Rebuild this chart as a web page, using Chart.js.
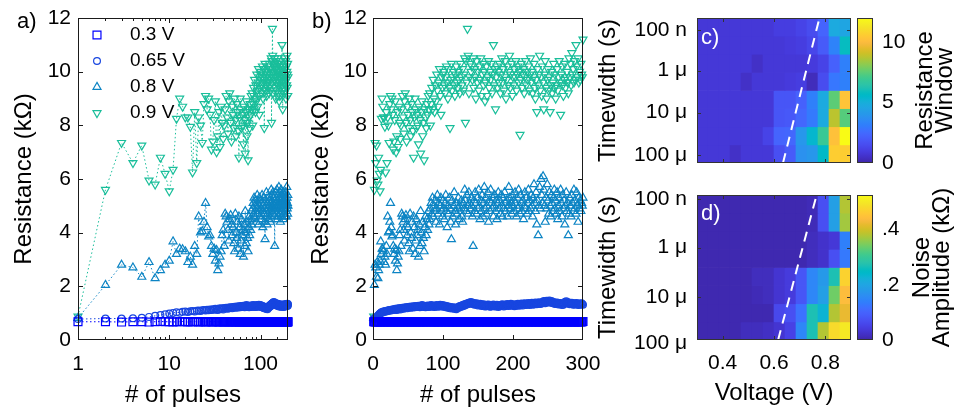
<!DOCTYPE html>
<html><head><meta charset="utf-8">
<script src="https://cdn.jsdelivr.net/npm/chart.js@4.4.1/dist/chart.umd.min.js"></script>
<style>
html,body{margin:0;padding:0;background:#fff;width:973px;height:412px;overflow:hidden}
canvas{position:absolute}
</style></head><body>
<canvas id="cA" width="300" height="412" style="left:0;top:0"></canvas>
<canvas id="cB" width="310" height="412" style="left:300px;top:0"></canvas>
<canvas id="cC" width="270" height="180" style="left:590px;top:0"></canvas>
<canvas id="cCb" width="123" height="180" style="left:850px;top:0"></canvas>
<canvas id="cD" width="270" height="232" style="left:590px;top:180px"></canvas>
<canvas id="cDb" width="123" height="232" style="left:850px;top:180px"></canvas>
<script>
// ---------------- DATA ----------------
const SERIES_LABELS = ['0.3 V', '0.65 V', '0.8 V', '0.9 V'];
const N_PULSES = 300;
const PULSES = Array.from({length: N_PULSES}, (_, i) => i + 1);

const R_03V = [
0.68,0.68,0.67,0.68,0.68,0.67,0.68,0.69,0.68,0.68,0.67,0.68,0.68,0.69,0.68,0.67,0.68,0.68,0.69,0.68,
0.67,0.68,0.69,0.68,0.67,0.68,0.68,0.69,0.68,0.67,0.68,0.69,0.68,0.68,0.67,0.68,0.69,0.68,0.67,0.68,
0.68,0.69,0.68,0.67,0.68,0.68,0.69,0.68,0.67,0.68,0.69,0.68,0.68,0.67,0.68,0.69,0.68,0.68,0.67,0.69,
0.68,0.67,0.68,0.69,0.68,0.68,0.67,0.68,0.69,0.68,0.67,0.68,0.68,0.69,0.68,0.67,0.68,0.69,0.68,0.68,
0.69,0.68,0.67,0.68,0.68,0.69,0.68,0.67,0.68,0.69,0.68,0.68,0.67,0.68,0.69,0.68,0.67,0.68,0.68,0.69,
0.68,0.68,0.69,0.67,0.68,0.68,0.69,0.68,0.67,0.68,0.68,0.69,0.68,0.67,0.69,0.68,0.68,0.67,0.68,0.69,
0.67,0.68,0.68,0.69,0.68,0.67,0.68,0.69,0.68,0.68,0.67,0.69,0.68,0.68,0.67,0.68,0.69,0.68,0.67,0.68,
0.69,0.68,0.67,0.68,0.69,0.68,0.68,0.67,0.68,0.69,0.68,0.67,0.68,0.68,0.69,0.68,0.67,0.69,0.68,0.68,
0.68,0.67,0.69,0.68,0.68,0.67,0.68,0.69,0.68,0.67,0.68,0.68,0.69,0.68,0.67,0.68,0.69,0.68,0.68,0.67,
0.68,0.69,0.68,0.67,0.68,0.68,0.69,0.68,0.67,0.68,0.69,0.68,0.68,0.67,0.68,0.69,0.68,0.67,0.68,0.68,
0.69,0.68,0.68,0.67,0.68,0.69,0.68,0.67,0.68,0.68,0.69,0.68,0.67,0.68,0.69,0.68,0.68,0.67,0.68,0.69,
0.68,0.67,0.68,0.68,0.69,0.68,0.67,0.68,0.69,0.68,0.68,0.67,0.68,0.69,0.68,0.67,0.68,0.68,0.69,0.68,
0.67,0.68,0.69,0.68,0.68,0.67,0.68,0.69,0.68,0.67,0.68,0.68,0.69,0.68,0.67,0.68,0.69,0.68,0.68,0.67,
0.68,0.69,0.68,0.67,0.68,0.68,0.69,0.68,0.67,0.68,0.69,0.68,0.68,0.67,0.68,0.69,0.68,0.67,0.68,0.68,
0.69,0.68,0.67,0.68,0.68,0.69,0.68,0.67,0.68,0.69,0.68,0.68,0.67,0.68,0.69,0.68,0.67,0.68,0.68,0.69];

const R_065V = [
0.78,0.8,0.8,0.81,0.83,0.86,0.9,0.93,0.96,0.99,
1.01,1.03,1.02,1.05,1.06,1.04,1.07,1.08,1.06,1.09,
1.1,1.08,1.11,1.12,1.1,1.13,1.11,1.14,1.12,1.15,
1.13,1.16,1.14,1.12,1.17,1.15,1.18,1.16,1.14,1.19,
1.17,1.2,1.18,1.16,1.21,1.19,1.22,1.2,1.18,1.23,
1.21,1.24,1.22,1.2,1.25,1.23,1.21,1.26,1.24,1.22,
1.27,1.25,1.23,1.26,1.28,1.24,1.22,1.27,1.25,1.3,
1.26,1.23,1.28,1.25,1.22,1.27,1.24,1.29,1.26,1.23,
1.28,1.25,1.3,1.27,1.24,1.29,1.26,1.23,1.28,1.25,
1.3,1.27,1.24,1.29,1.26,1.31,1.28,1.25,1.3,1.27,
1.24,1.29,1.26,1.22,1.27,1.24,1.2,1.25,1.22,1.18,
1.23,1.2,1.17,1.22,1.19,1.16,1.21,1.18,1.15,1.2,
1.22,1.19,1.24,1.27,1.23,1.28,1.25,1.3,1.27,1.32,
1.29,1.34,1.31,1.36,1.33,1.38,1.35,1.4,1.37,1.42,
1.38,1.34,1.39,1.35,1.31,1.36,1.32,1.37,1.33,1.29,
1.34,1.3,1.35,1.31,1.27,1.32,1.28,1.33,1.29,1.25,
1.3,1.26,1.31,1.27,1.32,1.28,1.24,1.29,1.25,1.3,
1.27,1.32,1.28,1.25,1.3,1.26,1.31,1.27,1.23,1.28,
1.3,1.26,1.31,1.28,1.33,1.29,1.25,1.3,1.27,1.32,
1.28,1.34,1.3,1.27,1.32,1.29,1.35,1.31,1.28,1.33,
1.3,1.26,1.31,1.28,1.33,1.29,1.35,1.32,1.28,1.34,
1.3,1.36,1.33,1.29,1.35,1.31,1.37,1.33,1.3,1.35,
1.32,1.38,1.34,1.3,1.36,1.33,1.39,1.35,1.31,1.37,
1.34,1.4,1.36,1.33,1.38,1.35,1.41,1.37,1.34,1.39,
1.36,1.42,1.38,1.45,1.41,1.37,1.43,1.46,1.4,1.44,
1.41,1.47,1.43,1.39,1.45,1.41,1.37,1.42,1.38,1.34,
1.39,1.35,1.4,1.36,1.32,1.37,1.33,1.38,1.34,1.3,
1.35,1.31,1.36,1.42,1.38,1.44,1.4,1.36,1.41,1.37,
1.33,1.38,1.34,1.39,1.35,1.31,1.36,1.32,1.37,1.33,
1.38,1.34,1.3,1.35,1.31,1.36,1.32,1.37,1.33,1.31];

const R_08V = [
0.82,2.05,2.8,2.7,2.35,2.9,2.3,2.6,2.8,2.95,3.67,3.2,3.4,3.38,3.3,2.9,3.1,2.8,3.5,3.2,
4.6,4.0,4.05,4.4,5.1,4.2,3.85,3.9,3.5,3.2,3.4,2.95,3.35,2.6,2.85,3.1,3.3,3.9,4.1,3.5,
4.7,4.6,4.4,4.1,3.7,4.5,4.65,4.3,3.9,4.2,3.6,3.3,4.7,4.0,3.8,4.4,3.4,4.6,4.2,3.2,
3.7,4.5,3.9,4.1,3.1,4.3,3.5,4.8,4.0,3.6,4.4,3.8,3.3,4.2,4.6,3.9,4.5,4.1,4.8,4.3,
4.5,4.9,5.1,4.7,5.3,4.6,5.0,4.8,5.2,4.4,4.9,5.4,4.7,5.1,4.3,5.0,5.3,4.8,4.6,5.2,
4.9,4.5,5.1,5.4,4.8,4.2,5.0,4.7,5.3,4.9,4.4,3.75,5.2,4.6,5.0,5.5,4.8,4.3,5.1,4.7,
4.9,5.3,4.5,5.0,4.8,5.2,4.6,4.4,5.1,4.9,5.6,5.2,4.8,5.4,5.0,4.7,5.5,5.1,4.9,5.3,
5.0,4.6,3.5,5.2,4.8,5.5,5.1,4.7,5.3,4.9,5.6,5.0,4.5,5.2,4.8,5.4,4.6,5.1,5.7,4.9,
5.3,4.7,5.0,5.5,4.4,5.2,4.8,5.6,5.1,4.9,5.3,4.6,5.0,5.4,4.8,5.2,4.5,5.1,5.5,4.9,
5.2,4.7,5.4,5.0,4.6,5.3,4.9,5.5,5.1,4.8,5.2,4.6,5.0,5.7,5.3,4.9,5.1,4.7,5.4,5.0,
5.2,4.8,5.5,5.1,4.6,5.3,4.9,5.6,5.0,4.7,5.4,5.1,4.8,5.2,4.5,5.0,5.5,4.9,5.3,4.7,
5.1,5.6,4.8,5.2,4.9,5.4,5.0,4.6,5.3,5.8,5.1,4.8,5.5,4.3,5.2,3.9,5.0,5.7,4.9,6.0,
5.4,5.1,6.1,5.6,5.0,4.4,5.3,4.9,5.8,5.2,4.7,5.5,5.0,4.6,5.4,5.1,4.8,5.3,5.6,4.9,
5.2,4.7,5.5,4.5,5.0,5.3,4.8,5.6,5.1,4.6,5.4,4.9,5.2,4.3,5.0,5.5,4.8,5.1,3.9,4.7,
5.3,5.0,4.6,5.4,5.1,4.8,5.6,4.9,5.2,4.7,5.5,5.0,4.4,5.3,4.9,5.2,4.8,5.1,5.0,5.3];

const R_09V = [
0.88,5.6,7.35,6.6,7.25,5.95,5.8,6.8,6.2,5.55,6.35,8.25,9.0,8.7,8.3,8.3,7.95,6.25,8.5,6.6,
8.3,8.0,7.35,8.8,9.1,8.6,9.0,8.4,7.1,7.4,8.2,8.9,7.0,7.6,8.5,7.2,8.7,8.1,7.5,8.0,
8.6,9.1,8.3,7.7,8.9,9.2,8.1,7.4,8.7,8.4,7.9,9.0,8.2,7.6,8.8,8.5,7.8,6.8,8.3,9.0,
8.6,7.9,8.4,8.0,7.3,8.7,8.2,6.95,8.5,8.9,7.6,8.1,6.7,8.6,8.3,7.9,8.8,8.4,9.1,8.6,
9.2,8.0,8.8,9.4,8.6,9.7,9.0,8.5,9.5,8.9,9.9,9.3,8.7,9.6,10.1,9.1,8.4,9.8,9.4,9.9,
10.0,9.5,9.2,9.8,10.2,9.6,9.0,10.1,9.4,7.9,9.7,10.3,9.3,9.8,10.0,9.5,9.1,9.9,10.2,9.6,
9.4,10.0,9.7,9.2,10.3,9.8,9.5,10.1,9.3,9.9,10.5,8.1,10.4,9.6,11.6,10.6,9.2,9.8,10.3,10.0,
10.2,9.7,10.5,9.4,10.1,9.8,9.0,10.4,9.6,10.0,9.3,10.2,9.7,10.5,9.1,9.9,10.3,9.5,10.0,8.9,
9.6,10.2,9.1,9.8,10.4,9.4,10.0,9.7,10.3,9.2,9.9,11.0,9.5,10.1,8.6,9.8,10.2,9.4,10.0,9.6,
10.3,9.2,9.9,10.5,9.6,10.1,9.3,9.8,10.4,9.0,9.7,10.2,9.5,10.0,10.6,9.4,9.9,10.3,9.1,9.8,
9.5,10.1,9.8,10.4,9.3,9.9,10.2,9.6,10.0,7.65,9.7,10.3,9.4,9.9,10.1,9.2,9.8,10.4,9.5,10.0,
9.7,10.2,9.3,9.9,10.5,9.6,10.0,9.2,9.8,10.3,9.4,9.0,9.7,8.5,10.1,9.5,9.9,10.6,9.3,9.8,
9.1,10.2,9.6,8.6,9.9,10.4,9.4,9.0,9.7,10.1,9.3,9.8,8.5,9.5,10.0,9.2,9.6,10.3,9.4,9.9,
9.0,9.5,10.1,9.3,9.8,10.4,9.6,8.4,9.9,10.2,9.5,9.1,9.7,10.3,9.4,9.8,10.0,9.6,9.2,10.5,
9.8,10.3,9.5,10.7,9.9,10.1,9.6,10.4,9.7,11.0,10.2,9.8,10.5,9.6,10.0,9.7,10.3,9.9,9.8,11.2];

const A_MAX_PULSE = 200;
const A_X_LABELS = [1, 10, 100];
const B_X_TICKS = [0, 100, 200, 300];
const RES_TICKS = [0, 2, 4, 6, 8, 10, 12];

// heat maps: 14 voltage columns x 8 timewidth rows (top = shortest pulse)
const VOLT_COLS = ['0.32','0.36','0.41','0.45','0.49','0.54','0.58','0.62','0.66','0.71','0.75','0.79','0.84','0.88'];
const V_MIN = 0.3, V_MAX = 0.9;
const V_TICKS = [0.4, 0.6, 0.8];
const V_LABELS = ['0.4', '0.6', '0.8'];
const TW_LABELS = ['100 n', '1 μ', '10 μ', '100 μ'];
const TW_POS_C = [0.66, 2.9, 5.22, 7.57];
const TW_POS_D = [0.22, 2.9, 5.62, 8.2];

const WINDOW_C = [
[0.8,0.8,0.8,0.8,0.8,0.8,0.8,1.0,1.0,1.2,1.5,2.3,4.8,4.6],
[0.8,0.8,0.8,0.8,0.8,0.8,0.8,0.8,0.9,1.0,1.3,2.0,3.3,5.8],
[0.8,0.8,0.8,0.8,0.8,0.5,0.8,0.8,0.8,0.8,0.9,1.2,2.2,3.2],
[0.8,0.8,0.8,0.8,0.5,0.8,0.8,0.8,0.9,1.0,0.3,1.5,2.9,3.2],
[0.8,0.8,0.8,0.8,0.8,0.8,0.8,1.8,1.8,2.2,3.2,4.8,7.5,10.3],
[0.8,0.8,0.8,0.8,0.8,0.8,0.8,1.8,1.9,2.4,3.0,4.8,8.8,7.4],
[0.8,0.8,0.8,0.8,0.8,0.8,1.2,2.3,2.4,4.0,5.4,6.9,10.2,12.0],
[0.8,0.8,0.8,0.5,0.8,0.8,0.8,1.6,2.0,3.8,4.0,5.6,10.6,10.6]];
const NOISE_D = [
[0.005,0.005,0.005,0.005,0.005,0.005,0.005,0.005,0.005,0.005,0.01,0.07,0.19,0.38],
[0.005,0.005,0.005,0.005,0.005,0.005,0.005,0.005,0.005,0.005,0.01,0.07,0.19,0.37],
[0.005,0.005,0.005,0.005,0.005,0.005,0.005,0.005,0.005,0.005,0.015,0.025,0.035,0.14],
[0.005,0.005,0.005,0.005,0.005,0.005,0.005,0.005,0.005,0.005,0.015,0.025,0.07,0.13],
[0.005,0.005,0.005,0.005,0.005,0.015,0.015,0.03,0.04,0.08,0.15,0.18,0.27,0.47],
[0.005,0.005,0.005,0.005,0.005,0.01,0.015,0.03,0.04,0.08,0.15,0.19,0.34,0.44],
[0.005,0.005,0.005,0.005,0.005,0.005,0.005,0.06,0.07,0.12,0.27,0.23,0.38,0.42],
[0.005,0.005,0.005,0.005,0.015,0.015,0.02,0.03,0.05,0.15,0.27,0.38,0.48,0.5]];
const WINDOW_MAX = 12;
const NOISE_MAX = 0.525;
const CB_C_TICKS = [0, 5, 10];
const CB_C_LABELS = ['0', '5', '10'];
const CB_D_TICKS = [0, 0.2, 0.4];
const CB_D_LABELS = ['0', '.2', '.4'];
// threshold dashed lines (voltage, row position)
const DASH_C_V = [0.635, 0.777];
const DASH_C_ROW = [8, 0];
const DASH_D_V = [0.616, 0.766];
const DASH_D_ROW = [8, 0];

// ---------------- STYLE ----------------
const FONT = "'Liberation Sans', Arial, Helvetica, sans-serif";
Chart.defaults.font.family = FONT;
Chart.defaults.font.size = 21;
Chart.defaults.color = '#000';
Chart.defaults.animation = false;

const STYLES = [
  {color: '#0000FF', pointStyle: 'rect', radius: 5.6, rot: 0},
  {color: '#1846E0', pointStyle: 'circle', radius: 3.4, rot: 0},
  {color: '#0C84C4', pointStyle: 'triangle', radius: 4.6, rot: 0},
  {color: '#19BE9A', pointStyle: 'triangle', radius: 4.6, rot: 180}
];
const SERIES_VALUES = [R_03V, R_065V, R_08V, R_09V];

const PARULA = [[0.2422,0.1504,0.6603],[0.2504,0.1650,0.7076],[0.2578,0.1818,0.7511],[0.2647,0.1978,0.7952],[0.2706,0.2147,0.8364],[0.2751,0.2342,0.8710],[0.2783,0.2559,0.8991],[0.2803,0.2782,0.9221],[0.2813,0.3006,0.9414],[0.2810,0.3228,0.9579],[0.2795,0.3447,0.9717],[0.2760,0.3667,0.9829],[0.2699,0.3892,0.9906],[0.2602,0.4123,0.9952],[0.2440,0.4358,0.9988],[0.2206,0.4603,0.9973],[0.1963,0.4847,0.9892],[0.1834,0.5074,0.9798],[0.1786,0.5289,0.9682],[0.1764,0.5499,0.9520],[0.1687,0.5703,0.9359],[0.1540,0.5902,0.9218],[0.1460,0.6091,0.9079],[0.1380,0.6276,0.8973],[0.1248,0.6459,0.8883],[0.1113,0.6635,0.8763],[0.0952,0.6798,0.8598],[0.0689,0.6948,0.8394],[0.0297,0.7082,0.8163],[0.0036,0.7203,0.7917],[0.0067,0.7312,0.7660],[0.0433,0.7411,0.7394],[0.0964,0.7500,0.7120],[0.1408,0.7584,0.6842],[0.1717,0.7670,0.6554],[0.1938,0.7758,0.6251],[0.2161,0.7843,0.5923],[0.2470,0.7918,0.5567],[0.2906,0.7973,0.5188],[0.3406,0.8008,0.4789],[0.3909,0.8029,0.4354],[0.4456,0.8024,0.3909],[0.5044,0.7993,0.3480],[0.5616,0.7942,0.3045],[0.6174,0.7876,0.2612],[0.6720,0.7793,0.2227],[0.7242,0.7698,0.1910],[0.7738,0.7598,0.1646],[0.8203,0.7498,0.1535],[0.8634,0.7406,0.1596],[0.9035,0.7330,0.1774],[0.9393,0.7288,0.2100],[0.9728,0.7298,0.2394],[0.9956,0.7434,0.2371],[0.9970,0.7659,0.2199],[0.9952,0.7893,0.2028],[0.9892,0.8136,0.1885],[0.9786,0.8386,0.1766],[0.9676,0.8639,0.1643],[0.9610,0.8890,0.1537],[0.9597,0.9135,0.1423],[0.9628,0.9373,0.1265],[0.9691,0.9606,0.1064],[0.9769,0.9839,0.0805]];
function rgbOf(c) { return 'rgb(' + c.map(v => Math.round(v * 255)).join(',') + ')'; }
function parula(t) {
  t = Math.max(0, Math.min(1, t));
  const f = t * (PARULA.length - 1), i = Math.min(Math.floor(f), PARULA.length - 2), u = f - i;
  return rgbOf(PARULA[i].map((v, k) => v + (PARULA[i + 1][k] - v) * u));
}
const isIn = (list, v) => list.some(m => Math.abs(m - v) < 1e-6 * Math.max(1, Math.abs(m)));

// scale sizing helpers: fixed thickness, no label-overflow padding
function fixW(w) { return s => { s.width = w; s.paddingTop = 0; s.paddingBottom = 0; }; }
function fixH(h) { return s => { s.height = h; s.paddingLeft = 0; s.paddingRight = 0; }; }

// ---------------- PLUGINS ----------------
function makeFrame(o) {
  return {
    id: 'frame',
    afterDraw(chart) {
      const ctx = chart.ctx, ca = chart.chartArea;
      ctx.save();
      ctx.strokeStyle = o.color; ctx.lineWidth = 1;
      (o.axes || []).forEach(a => {
        const s = chart.scales[a.id];
        s.ticks.forEach(t => {
          const v = t.value, p = s.getPixelForValue(v);
          const major = a.majors ? isIn(a.majors, v) : true;
          const len = major ? a.len : a.minorLen;
          if (!len) return;
          ctx.beginPath();
          if (s.isHorizontal()) {
            if (p < ca.left + 1 || p > ca.right - 1) return;
            const x = Math.round(p) + 0.5;
            ctx.moveTo(x, ca.bottom); ctx.lineTo(x, ca.bottom - len);
            ctx.moveTo(x, ca.top); ctx.lineTo(x, ca.top + len);
          } else {
            if (p < ca.top + 1 || p > ca.bottom - 1) return;
            const y = Math.round(p) + 0.5;
            ctx.moveTo(ca.left, y); ctx.lineTo(ca.left + len, y);
            ctx.moveTo(ca.right, y); ctx.lineTo(ca.right - len, y);
          }
          ctx.stroke();
        });
      });
      ctx.strokeRect(Math.round(ca.left) + 0.5, Math.round(ca.top) + 0.5, Math.round(ca.width) - 1, Math.round(ca.height) - 1);
      ctx.restore();
    }
  };
}
function makeText(items) {
  return {
    id: 'extraText',
    afterDraw(chart) {
      const ctx = chart.ctx, ca = chart.chartArea;
      items.forEach(it => {
        ctx.save();
        ctx.font = it.font; ctx.fillStyle = it.color || '#000';
        ctx.textAlign = it.align || 'center'; ctx.textBaseline = 'middle';
        ctx.translate(ca.left + it.dx, ca.top + it.dy);
        if (it.rot) ctx.rotate(it.rot);
        const lines = [].concat(it.text);
        lines.forEach((l, i) => ctx.fillText(l, 0, (i - (lines.length - 1) / 2) * (it.lh || 0)));
        ctx.restore();
      });
    }
  };
}
// tick labels placed through a scale's own value->pixel mapping
function makeAxisLabels(scaleId, values, labels, dy, font) {
  return {
    id: 'axisLabels',
    afterDraw(chart) {
      const ctx = chart.ctx, ca = chart.chartArea, s = chart.scales[scaleId];
      ctx.save();
      ctx.font = font; ctx.fillStyle = '#000'; ctx.textAlign = 'center'; ctx.textBaseline = 'middle';
      values.forEach((v, i) => ctx.fillText(labels[i], s.getPixelForValue(v), ca.bottom + dy));
      ctx.restore();
    }
  };
}
function drawMarker(ctx, style, x, y, r, rot, color, lw) {
  ctx.save();
  ctx.strokeStyle = color; ctx.lineWidth = lw;
  ctx.beginPath();
  if (style === 'rect') {
    const h = r * Math.SQRT1_2;
    ctx.rect(x - h, y - h, 2 * h, 2 * h);
  } else if (style === 'circle') {
    ctx.arc(x, y, r, 0, Math.PI * 2);
  } else {
    let a = rot * Math.PI / 180;
    ctx.moveTo(x + Math.sin(a) * r, y - Math.cos(a) * r);
    a += 2 * Math.PI / 3; ctx.lineTo(x + Math.sin(a) * r, y - Math.cos(a) * r);
    a += 2 * Math.PI / 3; ctx.lineTo(x + Math.sin(a) * r, y - Math.cos(a) * r);
    ctx.closePath();
  }
  ctx.stroke();
  ctx.restore();
}
function makeLegend(o) {
  return {
    id: 'miniLegend',
    afterDraw(chart) {
      const ctx = chart.ctx, ca = chart.chartArea;
      ctx.save();
      ctx.font = o.font; ctx.fillStyle = '#000'; ctx.textAlign = 'left'; ctx.textBaseline = 'middle';
      chart.data.datasets.forEach((ds, i) => {
        const y = ca.top + o.dy + i * o.step;
        drawMarker(ctx, ds.pointStyle, ca.left + o.mx, y, ds.pointRadius, ds.pointRotation || 0, ds.pointBorderColor, ds.pointBorderWidth);
        ctx.fillText(ds.label, ca.left + o.tx, y);
      });
      ctx.restore();
    }
  };
}

// ---------------- SCATTER PANELS ----------------
function scatterDatasets(n, lines) {
  return SERIES_VALUES.map((vals, k) => ({
    label: SERIES_LABELS[k],
    data: vals.slice(0, n).map((v, i) => ({x: PULSES[i], y: v})),
    showLine: lines,
    borderColor: STYLES[k].color,
    borderWidth: 1,
    borderDash: [1.5, 2.5],
    pointStyle: STYLES[k].pointStyle,
    pointRotation: STYLES[k].rot,
    pointRadius: STYLES[k].radius,
    pointBorderColor: STYLES[k].color,
    pointBackgroundColor: 'rgba(0,0,0,0)',
    pointBorderWidth: 1.2,
    clip: 5
  }));
}
const noGrid = {display: false, drawTicks: false};
const noBorder = {display: false};

new Chart(document.getElementById('cA'), {
  type: 'scatter',
  data: {datasets: scatterDatasets(A_MAX_PULSE, true)},
  options: {
    responsive: false, animation: false, events: [],
    layout: {padding: {top: 18, right: 12, left: 0, bottom: 0}},
    plugins: {legend: {display: false}, tooltip: {enabled: false}},
    scales: {
      x: {
        type: 'logarithmic', min: 1, max: A_MAX_PULSE, offset: false,
        grid: noGrid, border: noBorder,
        ticks: {padding: 12, autoSkip: false, maxRotation: 0, minRotation: 0,
          callback: v => isIn(A_X_LABELS, v) ? String(Math.round(v)) : ''},
        title: {display: true, text: '# of pulses', font: {size: 24}, padding: {top: 0, bottom: 2}},
        afterFit: fixH(72)
      },
      y: {
        min: 0, max: 12,
        afterBuildTicks: s => { s.ticks = RES_TICKS.map(v => ({value: v})); },
        grid: noGrid, border: noBorder,
        ticks: {padding: 7},
        title: {display: true, text: 'Resistance (kΩ)', font: {size: 24}, padding: {top: 10, bottom: 0}},
        afterFit: fixW(78)
      }
    }
  },
  plugins: [
    makeFrame({color: '#1a1a1a', axes: [{id: 'x', len: 5, minorLen: 3, majors: A_X_LABELS}, {id: 'y', len: 5}]}),
    makeText([{text: 'a)', dx: -61, dy: 4, align: 'left', font: '22px ' + FONT}]),
    makeLegend({font: '19px ' + FONT, mx: 19, tx: 52, dy: 17, step: 26})
  ]
});

new Chart(document.getElementById('cB'), {
  type: 'scatter',
  data: {datasets: scatterDatasets(N_PULSES, false)},
  options: {
    responsive: false, animation: false, events: [],
    layout: {padding: {top: 18, right: 27, left: 0, bottom: 0}},
    plugins: {legend: {display: false}, tooltip: {enabled: false}},
    scales: {
      x: {
        type: 'linear', min: 0, max: 300, offset: false,
        afterBuildTicks: s => { s.ticks = B_X_TICKS.map(v => ({value: v})); },
        grid: noGrid, border: noBorder,
        ticks: {padding: 12, autoSkip: false, maxRotation: 0},
        title: {display: true, text: '# of pulses', font: {size: 24}, padding: {top: 0, bottom: 2}},
        afterFit: fixH(72)
      },
      y: {
        min: 0, max: 12,
        afterBuildTicks: s => { s.ticks = RES_TICKS.map(v => ({value: v})); },
        grid: noGrid, border: noBorder,
        ticks: {padding: 6},
        title: {display: true, text: 'Resistance (kΩ)', font: {size: 24}, padding: {top: 7, bottom: 0}},
        afterFit: fixW(73)
      }
    }
  },
  plugins: [
    makeFrame({color: '#1a1a1a', axes: [{id: 'x', len: 5}, {id: 'y', len: 5}]}),
    makeText([{text: 'b)', dx: -61, dy: 4, align: 'left', font: '22px ' + FONT}])
  ]
});

// ---------------- HEAT MAPS ----------------
function heatmap(id, rows, vmax, twPos, dashV, dashRow, opt) {
  const datasets = rows.map((vals, r) => ({
    type: 'bar',
    data: vals.map(() => [r, r + 1]),
    backgroundColor: vals.map(v => parula(v / vmax)),
    borderWidth: 0, barPercentage: 1, categoryPercentage: 1, grouped: false,
    xAxisID: 'x', yAxisID: 'y', order: 1
  }));
  datasets.push({
    type: 'line',
    data: dashV.map((v, i) => ({x: v, y: dashRow[i]})),
    xAxisID: 'xv', yAxisID: 'y',
    borderColor: '#ffffff', borderWidth: 2, borderDash: [10, 7],
    pointRadius: 0, fill: false, order: 0
  });
  const plugins = [
    makeFrame({color: '#333333', axes: [{id: 'xv', len: 4, minorLen: 0, majors: V_TICKS}, {id: 'y', len: 4}]}),
    makeText([{text: opt.label, dx: 4, dy: opt.labelDy, align: 'left', color: '#ffffff', font: '22px ' + FONT}])
  ];
  if (opt.showX) plugins.push(makeAxisLabels('xv', V_TICKS, V_LABELS, 23, '21px ' + FONT));
  new Chart(document.getElementById(id), {
    type: 'bar',
    data: {labels: VOLT_COLS, datasets},
    options: {
      responsive: false, animation: false, events: [],
      layout: {padding: {top: opt.top, right: 9, left: 0, bottom: 0}},
      plugins: {legend: {display: false}, tooltip: {enabled: false}},
      scales: {
        x: {type: 'category', display: false, offset: true},
        xv: {
          type: 'linear', position: 'bottom', min: V_MIN, max: V_MAX, offset: false,
          grid: {display: false, drawTicks: false, offset: false}, border: noBorder,
          ticks: {display: false, stepSize: 0.1, includeBounds: false, autoSkip: false},
          title: {display: opt.showX, text: 'Voltage (V)', font: {size: 24}, padding: {top: 0, bottom: 4}},
          afterFit: fixH(opt.xh)
        },
        y: {
          type: 'linear', reverse: true, min: 0, max: rows.length, offset: false,
          afterBuildTicks: s => { s.ticks = twPos.map(v => ({value: v})); },
          grid: noGrid, border: noBorder,
          ticks: {padding: 10, autoSkip: false, callback: (v, i) => TW_LABELS[i]},
          title: {display: true, text: 'Timewidth (s)', font: {size: 24}, padding: {top: 4, bottom: 0}},
          afterFit: fixW(107)
        }
      }
    },
    plugins
  });
}
heatmap('cC', WINDOW_C, WINDOW_MAX, TW_POS_C, DASH_C_V, DASH_C_ROW, {top: 18, xh: 17, showX: false, label: 'c)', labelDy: 19.5});
heatmap('cD', NOISE_D, NOISE_MAX, TW_POS_D, DASH_D_V, DASH_D_ROW, {top: 15, xh: 72, showX: true, label: 'd)', labelDy: 19});

// ---------------- COLOR BARS ----------------
function colorbar(id, vmax, ticks, labels, pad, title, titleDx) {
  new Chart(document.getElementById(id), {
    type: 'bar',
    data: {labels: [''], datasets: [{
      data: [[0, vmax]],
      backgroundColor: c => {
        const ca = c.chart.chartArea;
        if (!ca) return parula(0.5);
        const g = c.chart.ctx.createLinearGradient(0, ca.bottom, 0, ca.top);
        PARULA.forEach((p, i) => g.addColorStop(i / (PARULA.length - 1), rgbOf(p)));
        return g;
      },
      borderWidth: 0, barPercentage: 1, categoryPercentage: 1
    }]},
    options: {
      responsive: false, animation: false, events: [],
      layout: {padding: {top: pad.top, bottom: pad.bottom, left: 7, right: 0}},
      plugins: {legend: {display: false}, tooltip: {enabled: false}},
      scales: {
        x: {display: false},
        y: {
          position: 'right', min: 0, max: vmax,
          afterBuildTicks: s => { s.ticks = ticks.map(v => ({value: v})); },
          grid: noGrid, border: noBorder,
          ticks: {padding: 9, autoSkip: false, callback: (v, i) => labels[i]},
          afterFit: fixW(100)
        }
      }
    },
    plugins: [
      makeFrame({color: '#333333', axes: []}),
      makeText([{text: title, dx: titleDx, dy: 72.5, rot: -Math.PI / 2, lh: 20, font: '24px ' + FONT}])
    ]
  });
}
colorbar('cCb', WINDOW_MAX, CB_C_TICKS, CB_C_LABELS, {top: 18, bottom: 17}, ['Resistance', 'Window'], 78);
colorbar('cDb', NOISE_MAX, CB_D_TICKS, CB_D_LABELS, {top: 15, bottom: 72}, ['Noise', 'Amplitude (kΩ)'], 75);
</script>
</body></html>
